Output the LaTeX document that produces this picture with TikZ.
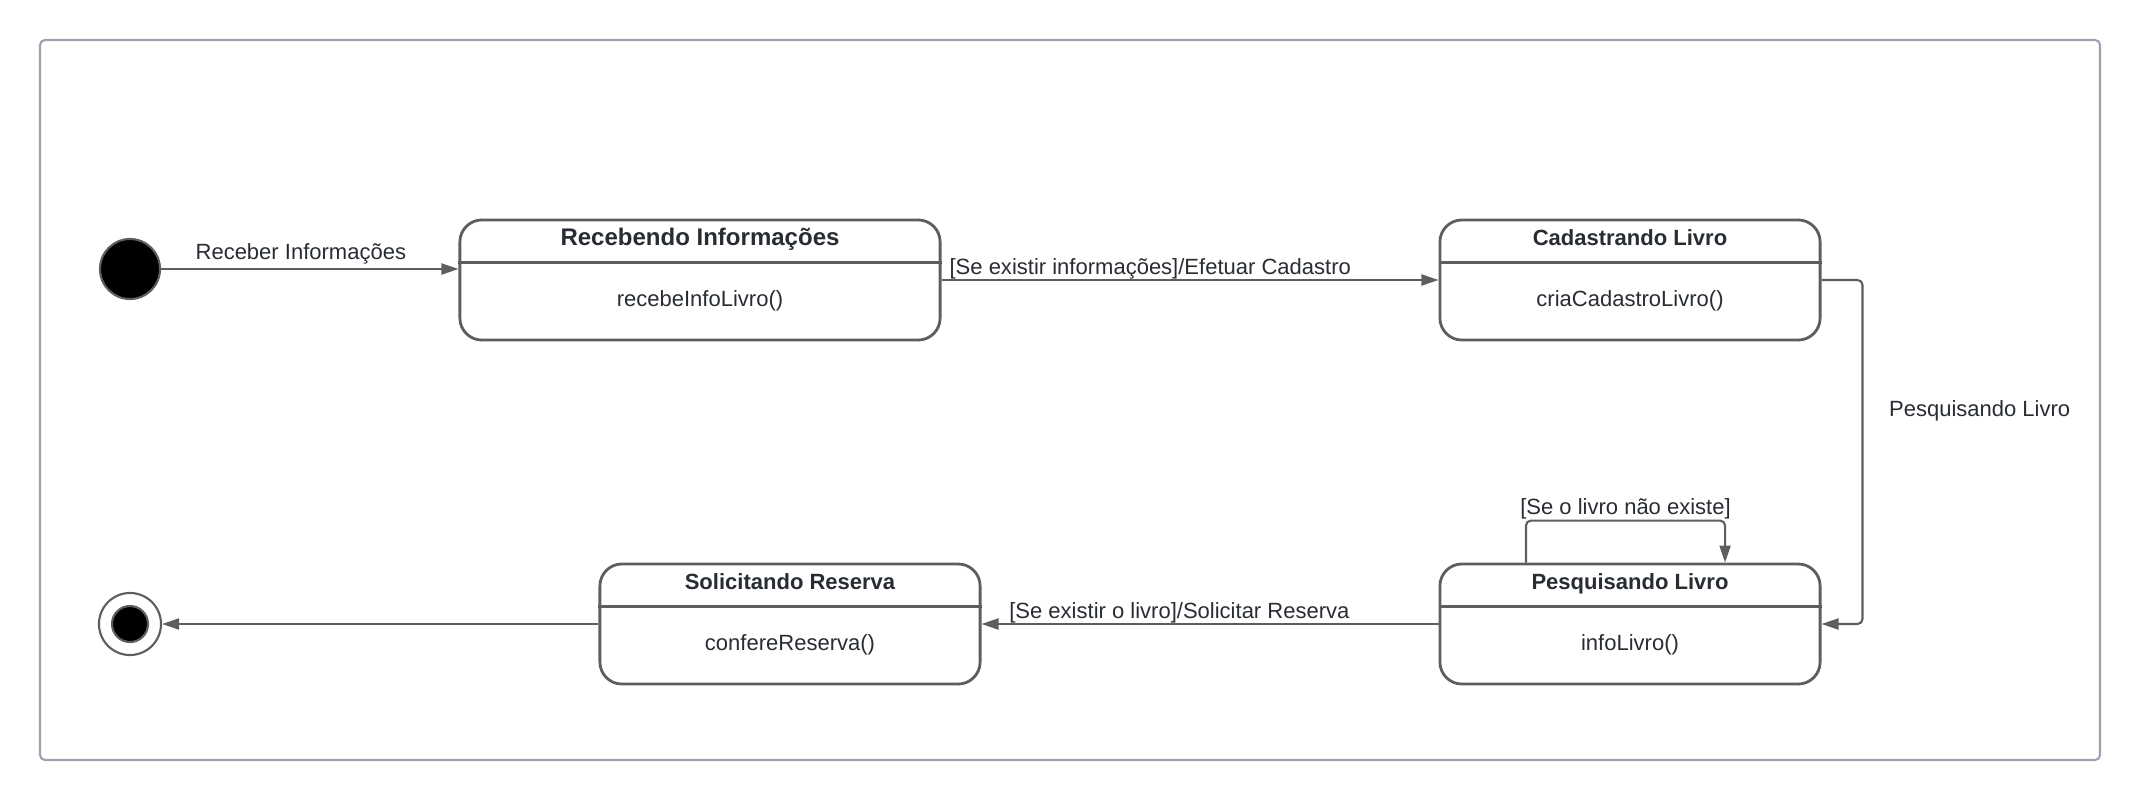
\documentclass[tikz,border=0pt]{standalone}
\usepackage{fontspec}
\setmainfont{Liberation Sans}
\usepackage{xcolor}
\usetikzlibrary{arrows.meta,positioning,calc}
\definecolor{lnc}  {HTML}{5E5E5E}
\definecolor{txt}  {HTML}{282C33}
\definecolor{frm}  {HTML}{9DA3AE}

\begin{document}
\begin{tikzpicture}[x=0.01cm, y=-0.01cm,
   st/.style={rectangle, draw=lnc, fill=white, line width=0.8pt, rounded corners=0.22cm,
              minimum height=1.2cm, inner sep=0pt},
   ttl/.style={font=\bfseries\fontsize{6.26pt}{7.5pt}\selectfont, text=txt, inner sep=0pt, anchor=base},
   body/.style={font=\fontsize{6.26pt}{7.5pt}\selectfont, text=txt, inner sep=0pt, anchor=base},
   lbl/.style={font=\fontsize{6.26pt}{7.5pt}\selectfont, text=txt, inner sep=1pt},
   trans/.style={draw=lnc, line width=0.6pt, -{Triangle[length=0.17cm, width=0.11cm]}},
   dot/.style={circle, fill=black, draw=lnc, line width=0.6pt, inner sep=0pt}
]
\useasboundingbox (0,0) rectangle (2140,800);
\draw[frm, line width=0.6pt, rounded corners=0.05cm] (40,40) rectangle (2100,760);

% estados
\foreach \n/\cx/\cy/\w/\fs/\t/\b in {
    recb/700/280/4.8/6.83/Recebendo Informações/recebeInfoLivro(),
    cad/1630/280/3.8/6.26/Cadastrando Livro/criaCadastroLivro(),
    pesq/1630/624/3.8/6.26/Pesquisando Livro/infoLivro(),
    sol/790/624/3.8/6.26/Solicitando Reserva/confereReserva()}{
  \node[st, minimum width=\w cm] (\n) at (\cx,\cy) {};
  \draw[lnc, line width=0.8pt] ($(\n.north west)+(0,44)$) -- ($(\n.north east)+(0,44)$);
  \node[ttl, font=\bfseries\fontsize{\fs pt}{8pt}\selectfont] (\n t) at ($(\n.north)+(0,27)$) {\t};
  \node[body] (\n b) at ($(\n.north)+(0,88)$) {\b};
}

% inicio e fim
\node[dot, minimum size=0.6cm] (ini) at (130,269) {};
\node[circle, draw=lnc, fill=white, line width=0.6pt, minimum size=0.62cm, inner sep=0pt] (fim) at (130,624) {};
\node[dot, minimum size=0.36cm] (fimin) at (fim) {};

% transicoes
\draw[trans] (ini) -- node[lbl, pos=0.47, above] {Receber Informações} (ini -| recb.west);
\draw[trans] (recb.east) -- node[lbl, pos=0.42, above=-1pt] {[Se existir informações]/Efetuar Cadastro} (cad.west);
\draw[trans, rounded corners=0.05cm] (cad.east) -- ++(41,0)
   |- node[lbl, pos=0.19, right=0.22cm] {Pesquisando Livro} (pesq.east);
\draw[trans, rounded corners=0.05cm] ([xshift=-1.04cm]pesq.north) -- ++(0,-42)
   -| node[lbl, pos=0.25, above=-1pt] {[Se o livro não existe]} ([xshift=0.95cm]pesq.north);
\draw[trans] (pesq.west) -- node[lbl, pos=0.567, above=-1pt] {[Se existir o livro]/Solicitar Reserva} (sol.east);
\draw[trans] (sol.west) -- (fim);
\end{tikzpicture}
\end{document}
